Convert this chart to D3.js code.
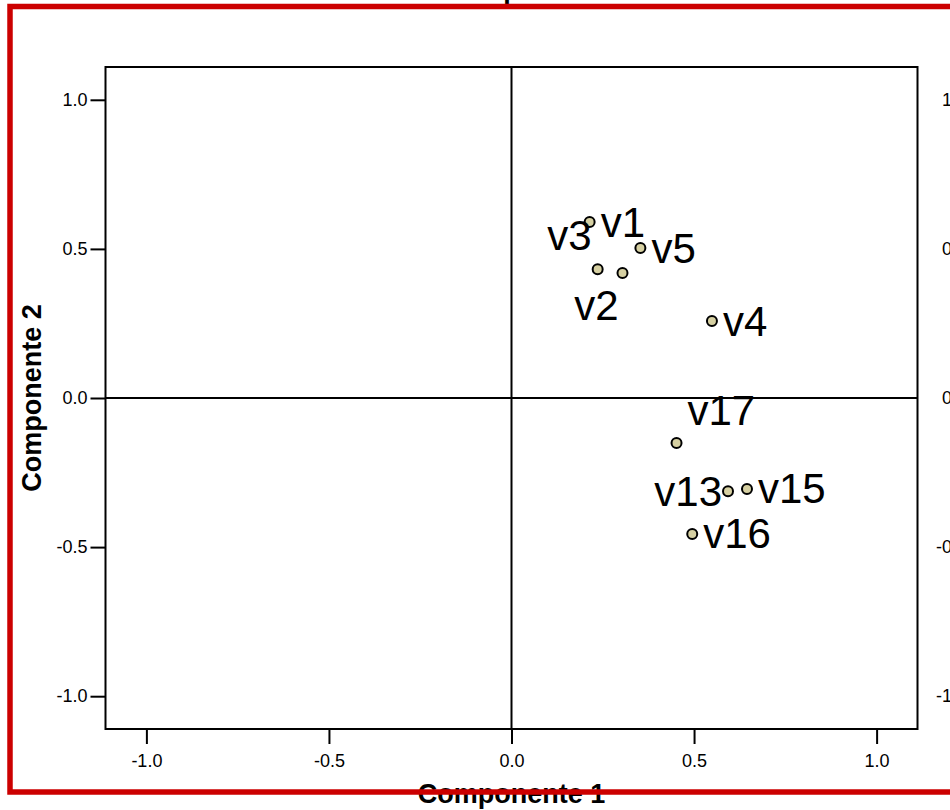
<!DOCTYPE html>
<html>
<head>
<meta charset="utf-8">
<script src="https://d3js.org/d3.v7.min.js"></script>
<style>
body { margin: 0; background: #fff; }
text { font-family: "Liberation Sans", Arial, sans-serif; }
</style>
</head>
<body>
<script>
// component loadings
const names = ["v1", "v2", "v3", "v4", "v5", "v13", "v15", "v16", "v17"];
const comp1 = [0.214, 0.304, 0.236, 0.549, 0.353, 0.593, 0.645, 0.495, 0.452];
const comp2 = [0.590, 0.419, 0.432, 0.258, 0.503, -0.313, -0.305, -0.456, -0.151];
const tickValues = [-1.0, -0.5, 0.0, 0.5, 1.0];
// where each label sits around its point (r, l, ul, ll, ur)
const labelSide = ["r", "ll", "ul", "r", "r", "l", "r", "r", "ur"];

const W = 950, H = 810;
const plotL = 105.5, plotR = 917.5, plotT = 67, plotB = 729;

const svg = d3.select("body").append("svg")
  .attr("width", W)
  .attr("height", H);

const x = d3.scaleLinear().domain([-1.112, 1.112]).range([plotL, plotR]);
const y = d3.scaleLinear().domain([-1.11, 1.11]).range([plotB, plotT]);

const fmt = d3.formatLocale({decimal: ".", thousands: ",", grouping: [3], currency: ["", ""], minus: "-"}).format(".1f");

// title, mostly above the page
svg.append("text")
  .attr("x", 465).attr("y", -2)
  .attr("text-anchor", "middle")
  .style("font-size", "27px").style("font-weight", "bold")
  .text("Gráfico de componentes");

// frame
svg.append("rect")
  .attr("x", plotL).attr("y", plotT)
  .attr("width", plotR - plotL).attr("height", plotB - plotT)
  .attr("fill", "none").attr("stroke", "#000").attr("stroke-width", 2);

// zero lines
svg.append("line")
  .attr("x1", plotL).attr("x2", plotR)
  .attr("y1", y(0)).attr("y2", y(0))
  .attr("stroke", "#000").attr("stroke-width", 2);
svg.append("line")
  .attr("x1", x(0)).attr("x2", x(0))
  .attr("y1", plotT).attr("y2", plotB)
  .attr("stroke", "#000").attr("stroke-width", 2);

// left axis
const gy = svg.append("g")
  .attr("transform", "translate(" + plotL + ",0)")
  .call(d3.axisLeft(y).tickValues(tickValues).tickFormat(fmt).tickSize(15).tickPadding(3));
gy.select(".domain").remove();
gy.selectAll("line").attr("stroke-width", 2);
gy.selectAll("text").style("font-size", "18px").attr("fill", "#000");

// right labels only (cut at page edge)
svg.append("g").selectAll("text")
  .data(tickValues)
  .join("text")
  .attr("x", 967)
  .attr("y", d => y(d))
  .attr("dy", "0.35em")
  .attr("text-anchor", "end")
  .style("font-size", "18px")
  .text(d => fmt(d));

// bottom axis
const gx = svg.append("g")
  .attr("transform", "translate(0," + plotB + ")")
  .call(d3.axisBottom(x).tickValues(tickValues).tickFormat(fmt).tickSize(15).tickPadding(10));
gx.select(".domain").remove();
gx.selectAll("line").attr("stroke-width", 2);
gx.selectAll("text").style("font-size", "18px").attr("fill", "#000");

// axis titles
svg.append("text")
  .attr("x", x(0)).attr("y", 803)
  .attr("text-anchor", "middle")
  .style("font-size", "27px").style("font-weight", "bold")
  .text("Componente 1");
svg.append("text")
  .attr("transform", "translate(41," + y(0) + ") rotate(-90)")
  .attr("text-anchor", "middle")
  .style("font-size", "27px").style("font-weight", "bold")
  .text("Componente 2");

// points
const pts = names.map((n, i) => ({name: n, c1: comp1[i], c2: comp2[i], side: labelSide[i]}));

svg.append("g").selectAll("circle")
  .data(pts)
  .join("circle")
  .attr("cx", d => x(d.c1))
  .attr("cy", d => y(d.c2))
  .attr("r", 5)
  .attr("fill", "#d6d0a2")
  .attr("stroke", "#000")
  .attr("stroke-width", 2);

const offsets = {
  r:  {dx: 11, dy: 14.5, anchor: "start"},
  l:  {dx: -6, dy: 15, anchor: "end"},
  ul: {dx: -6, dy: -19, anchor: "end"},
  ll: {dx: -4, dy: 47, anchor: "end"},
  ur: {dx: 11, dy: -18, anchor: "start"}
};

svg.append("g").selectAll("text")
  .data(pts)
  .join("text")
  .attr("x", d => x(d.c1) + offsets[d.side].dx)
  .attr("y", d => y(d.c2) + offsets[d.side].dy)
  .attr("text-anchor", d => offsets[d.side].anchor)
  .style("font-size", "42px")
  .text(d => d.name);

// red outer border, drawn over everything
svg.append("rect")
  .attr("x", 10).attr("y", 6.5)
  .attr("width", 1000).attr("height", 785.5)
  .attr("fill", "none")
  .attr("stroke", "#cc0000")
  .attr("stroke-width", 5.5);
</script>
</body>
</html>
